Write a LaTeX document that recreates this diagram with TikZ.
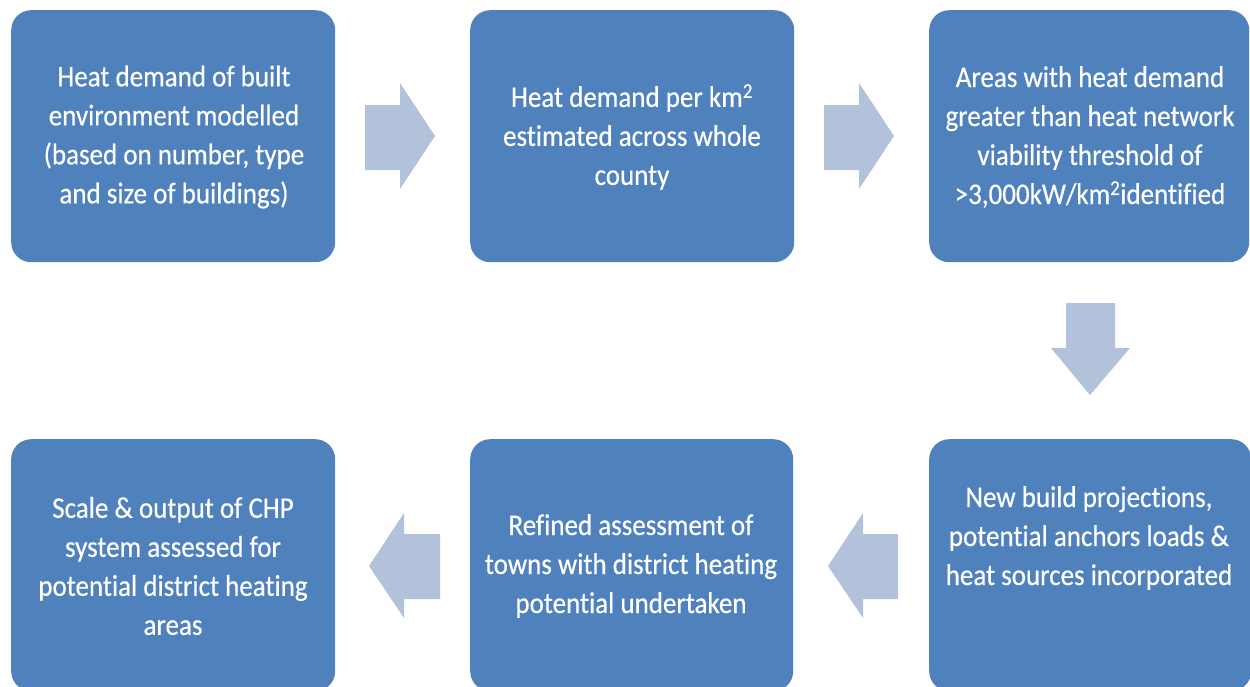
\documentclass[tikz,border=0pt]{standalone}
\usepackage{fontspec}
\setmainfont{Carlito}[FakeStretch=0.9,FakeBold=0.4,Ligatures=NoCommon]
\definecolor{boxblue}{HTML}{4F81BD}
\definecolor{arrowblue}{HTML}{B3C2DB}
\begin{document}
\begin{tikzpicture}[x=1pt,y=-1pt,
  stepbox/.style={fill=boxblue,rounded corners=20pt,inner sep=0pt,
    minimum width=324pt,minimum height=252pt,anchor=north west},
  steptext/.style={text=white,align=center,inner sep=0pt,
    font=\fontsize{30}{39}\selectfont},
  blockarrow/.style={fill=arrowblue,draw=none}]
\useasboundingbox (0,0) rectangle (1250,686);
\clip (0,0) rectangle (1250,686);
\fill[white] (0,0) rectangle (1250,686);
% boxes
\node[stepbox] (b1) at (11,10) {};
\node[stepbox] (b2) at (470,10) {};
\node[stepbox,minimum width=320pt] (b3) at (929,10) {};
\node[stepbox,minimum width=322pt] (b6) at (929,439) {};
\node[stepbox,minimum width=323pt] (b5) at (470,439) {};
\node[stepbox] (b4) at (11,439) {};
% texts
\node[steptext] (t1) at (174,137) {Heat demand of built\\environment modelled\\(based on number, type\\and size of buildings)};
\node[steptext] (t2) at (632,137) {Heat demand per km\textsuperscript{2}\\estimated across whole\\county};
\node[steptext] (t3) at (1090,137) {Areas with heat demand\\greater than heat network\\viability threshold of\\>3,000kW/km\textsuperscript{2}identified};
\node[steptext] (t6) at (1089,538) {New build projections,\\potential anchors loads \&\\heat sources incorporated};
\node[steptext] (t5) at (631,566) {Refined assessment of\\towns with district heating\\potential undertaken};
\node[steptext] (t4) at (173,566) {Scale \& output of CHP\\system assessed for\\potential district heating\\areas};
% block arrows
\fill[blockarrow] (365,105) -- (400,105) -- (400,83) -- (435,136) -- (400,189) -- (400,170) -- (365,170) -- cycle;
\fill[blockarrow] (824,105) -- (859,105) -- (859,83) -- (894,136) -- (859,189) -- (859,170) -- (824,170) -- cycle;
\fill[blockarrow] (1066,303) -- (1115,303) -- (1115,348) -- (1130,348) -- (1090,395) -- (1051,348) -- (1066,348) -- cycle;
\fill[blockarrow] (898,534) -- (863,534) -- (863,513) -- (828,566) -- (863,618) -- (863,599) -- (898,599) -- cycle;
\fill[blockarrow] (440,534) -- (404,534) -- (404,513) -- (369,566) -- (404,618) -- (404,599) -- (440,599) -- cycle;
\end{tikzpicture}
\end{document}
